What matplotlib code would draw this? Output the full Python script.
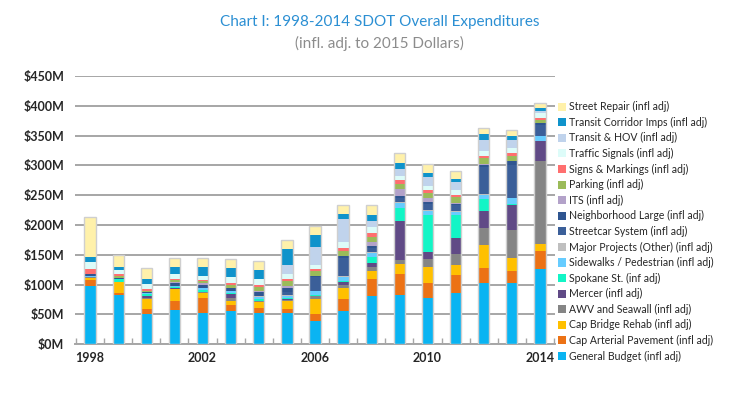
import matplotlib.pyplot as plt
import numpy as np

plt.rcParams['font.family'] = ['Lato', 'DejaVu Sans']

years = list(range(1998, 2015))

# $M per year, bottom of stack first
general = [98, 83, 50, 58, 53, 56, 53, 52, 39, 55, 81, 83, 77, 85, 102, 102, 126]
arterial = [9, 3, 9, 14, 24, 9, 7, 7, 12, 21, 29, 35, 26, 31, 25, 21, 30]
bridge = [4, 18, 17, 21, 9, 8, 11, 13, 24, 18, 13, 16, 27, 16, 40, 21, 12]
awv = [1, 0, 2, 0, 1, 4, 2, 2, 5, 6, 7, 7, 13, 19, 28, 47, 139]
mercer = [0, 0, 2, 1, 1, 7, 0, 1, 0, 4, 7, 65, 11, 27, 29, 43, 34]
spokane = [1, 6, 4, 2, 3, 2, 2, 3, 3, 2, 10, 23, 62, 38, 20, 1, 0]
sidewalks = [1, 0, 1, 2, 4, 3, 4, 3, 6, 7, 6, 8, 7, 6, 7, 10, 8]
major = [0, 0, 0, 0, 0, 1, 1, 2, 1, 1, 1, 1, 2, 1, 1, 1, 0]
streetcar = [0, 0, 0, 0, 0, 0, 0, 4, 22, 30, 8, 8, 10, 10, 45, 55, 18]
neighborhood = [4, 1, 3, 4, 5, 4, 7, 8, 3, 4, 3, 2, 4, 3, 4, 6, 4]
its = [0, 0, 0, 2, 3, 1, 2, 3, 0, 0, 7, 13, 7, 1, 1, 1, 1]
parking = [0, 3, 1, 3, 3, 5, 7, 8, 7, 9, 8, 8, 8, 10, 10, 8, 4]
signs = [8, 4, 3, 3, 2, 3, 3, 4, 4, 4, 6, 6, 4, 3, 4, 4, 4]
signals = [12, 7, 9, 7, 7, 10, 11, 7, 7, 10, 10, 8, 8, 9, 8, 10, 8]
transit_hov = [0, 0, 0, 0, 0, 0, 0, 15, 30, 39, 11, 11, 14, 13, 18, 12, 4]
corridor = [8, 4, 8, 13, 15, 15, 14, 27, 21, 8, 10, 10, 8, 6, 10, 7, 4]
street_repair = [68, 20, 19, 15, 14, 15, 15, 15, 15, 15, 17, 16, 15, 13, 10, 10, 8]

series = [
    ('General Budget (infl adj)', general, '#0AB4F2'),
    ('Cap Arterial Pavement (infl adj)', arterial, '#EC7215'),
    ('Cap Bridge Rehab (infl adj)', bridge, '#FFC000'),
    ('AWV and Seawall (infl adj)', awv, '#858585'),
    ('Mercer (infl adj)', mercer, '#604A86'),
    ('Spokane St. (inf adj)', spokane, '#12F5C6'),
    ('Sidewalks / Pedestrian (infl adj)', sidewalks, '#66CCFF'),
    ('Major Projects (Other) (infl adj)', major, '#BFBFBF'),
    ('Streetcar System (infl adj)', streetcar, '#3B5F99'),
    ('Neighborhood Large (infl adj)', neighborhood, '#2F5590'),
    ('ITS (infl adj)', its, '#B3A2C9'),
    ('Parking (infl adj)', parking, '#9BBB59'),
    ('Signs & Markings (infl adj)', signs, '#FF6F6F'),
    ('Traffic Signals (infl adj)', signals, '#DDFCF9'),
    ('Transit & HOV (infl adj)', transit_hov, '#C0D3EC'),
    ('Transit Corridor Imps (infl adj)', corridor, '#0F93CB'),
    ('Street Repair (infl adj)', street_repair, '#FFF1AA'),
]

fig = plt.figure(figsize=(7.3, 3.96), dpi=100)
ax = fig.add_axes([0.103, 0.131, 0.657, 0.677])

width = 0.4
bottom = np.zeros(len(years))
handles = []
for label, vals, color in series:
    b = ax.bar(years, vals, width, bottom=bottom, color=color, label=label,
               linewidth=0, zorder=3)
    handles.append(b)
    bottom += np.array(vals)

# light outline around each whole bar
ax.bar(years, bottom, width, fill=False, edgecolor='#CFCFCF', linewidth=1.0, zorder=4)

ax.set_ylim(0, 450)
ax.set_xlim(1997.47, 2014.53)
ax.set_yticks(range(0, 451, 50))
ax.set_yticklabels(['$%dM' % v for v in range(0, 451, 50)])
ax.set_xticks([1998, 2002, 2006, 2010, 2014])
ax.set_xticks(np.arange(1997.5, 2015, 1), minor=True)
ax.tick_params(axis='x', which='major', length=0, pad=6, labelsize=9, labelcolor='#262626')
ax.tick_params(axis='x', which='minor', length=4, direction='in', color='#A6A6A6', width=1)
ax.tick_params(axis='y', length=0, pad=8, labelsize=9, labelcolor='#262626')
for lab in ax.get_xticklabels() + ax.get_yticklabels():
    lab.set_fontweight('bold')

ax.grid(axis='y', color='#A6A6A6', linewidth=1.4, zorder=0)
for s in ['top', 'right', 'left']:
    ax.spines[s].set_visible(False)
ax.spines['bottom'].set_color('#A6A6A6')
ax.spines['bottom'].set_linewidth(1.4)

leg = fig.legend(handles[::-1], [s[0] for s in series][::-1], loc='upper left',
                 bbox_to_anchor=(0.758, 0.755), frameon=False, fontsize=7.6,
                 handlelength=0.8, handleheight=0.8, handletextpad=0.3,
                 labelspacing=0.43, borderaxespad=0)
for t in leg.get_texts():
    t.set_color('#262626')

fig.text(0.52, 0.945, 'Chart I: 1998-2014 SDOT Overall Expenditures', ha='center',
         va='center', fontsize=11, color='#2B8FD3')
fig.text(0.52, 0.89, '(infl. adj. to 2015 Dollars)', ha='center', va='center',
         fontsize=11, color='#8C8C8C')

fig.savefig('out.png', dpi=100)
